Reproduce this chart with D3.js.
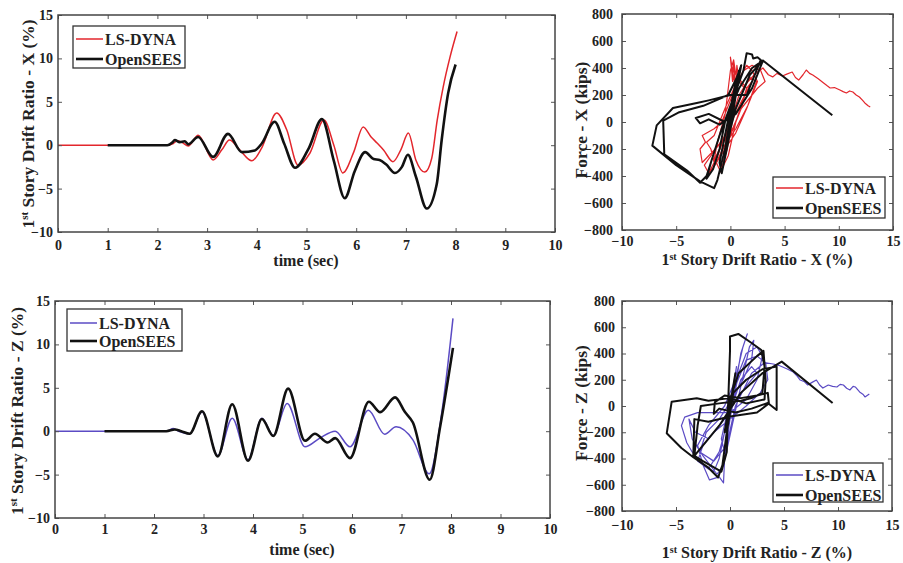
<!DOCTYPE html>
<html><head><meta charset="utf-8">
<script src="https://cdn.jsdelivr.net/npm/d3@7"></script>
<style>
body{margin:0;background:#fff;}
svg{display:block;}
text{font-family:"Liberation Serif","Times New Roman",serif;font-weight:bold;fill:#222;}
</style></head>
<body><svg id="c" width="903" height="563"></svg>
<script>
// ---------- DATA ----------
const seriesNames = ["LS-DYNA", "OpenSEES"];
const timeTicks = [0,1,2,3,4,5,6,7,8,9,10];
const driftTicks = [-10,-5,0,5,10,15];
const hystXTicks = [-10,-5,0,5,10,15];
const forceTicks = [-800,-600,-400,-200,0,200,400,600,800];

// Drift X time histories
const dynaXTime  = [0,2.2,2.32,2.4,2.5,2.62,2.82,3.12,3.3,3.45,3.65,3.9,4.1,4.4,4.6,4.83,5.07,5.35,5.55,5.73,5.95,6.14,6.3,6.42,6.55,6.74,6.9,7.05,7.2,7.38,7.52,7.63,7.75,7.89,8.03];
const dynaXDrift = [0,0,0.2,0.5,0.3,-0.1,1.15,-1.7,-0.5,0.6,-0.5,-1.8,-0.3,3.7,1.8,-2.3,-0.9,2.9,0.0,-3.2,-0.8,2.1,0.95,0.25,-0.55,-1.9,-0.5,1.4,-1.7,-3.1,-1.5,2.9,6.7,10.2,13.1];
const oseesXTime  = [1.0,2.2,2.3,2.35,2.45,2.55,2.62,2.82,3.12,3.42,3.7,3.96,4.1,4.36,4.55,4.77,5.05,5.31,5.55,5.77,5.97,6.18,6.35,6.47,6.6,6.78,6.92,7.04,7.2,7.42,7.62,7.72,7.85,8.0];
const oseesXDrift = [0,0,0.3,0.6,0.35,0.45,0.1,0.95,-1.35,1.3,-0.8,-0.6,0.2,2.7,0.2,-2.6,-0.3,3.0,-1.8,-6.1,-3.0,-0.8,-1.6,-1.7,-2.2,-3.2,-2.5,-1.1,-3.6,-7.3,-4.5,0.6,6.0,9.3];

// Drift Z time histories
const dynaZTime  = [0,2.25,2.39,2.5,2.72,2.97,3.29,3.58,3.9,4.18,4.41,4.69,5.05,5.35,5.66,5.96,6.33,6.66,6.89,7.23,7.56,7.82,8.04];
const dynaZDrift = [0,0,0.3,0.0,-0.3,2.2,-2.8,1.5,-3.3,1.5,-0.5,3.2,-1.8,-0.8,0.0,-1.8,2.4,-0.35,0.5,-1.0,-4.9,2.4,13.0];
const oseesZTime  = [1.0,2.25,2.42,2.55,2.72,2.97,3.29,3.58,3.9,4.18,4.41,4.71,5.05,5.25,5.51,5.66,5.96,6.34,6.57,6.87,7.07,7.23,7.57,7.78,8.04];
const oseesZDrift = [0,0,0.2,0.0,-0.3,2.3,-2.9,3.1,-3.4,1.4,-0.55,4.9,-1.1,-0.3,-1.3,-0.8,-3.1,3.4,2.2,3.9,2.2,1.0,-5.6,0.5,9.6];

// Force-drift X  [drift %, force kips]
const dynaXHyst = [[0,0],[0.1,80],[-0.1,-50],[0.2,150],[0.0,40],[-0.3,-100],[0.3,200],[0.1,120],[-0.5,-150],[-0.2,-60],[0.4,280],[0.0,480],[0.2,300],[0.3,450],[0.5,200],[-0.3,-50],[-1.0,-200],[-1.5,-280],[-1.2,-150],[-0.5,50],[0.0,380],[0.3,460],[0.5,350],[1.0,300],[1.5,250],[1.0,100],[0.2,-50],[-0.8,-150],[-2.0,-250],[-2.6,-300],[-2.8,-200],[-2.3,-150],[-2.6,-100],[-1.5,-50],[-0.8,0],[0.2,200],[1.0,350],[1.5,420],[2.0,380],[2.5,300],[1.5,100],[0.5,-80],[-0.5,-200],[-1.5,-330],[-2.0,-380],[-1.5,-300],[-1.8,-200],[-2.2,-150],[-1.5,-100],[-0.5,100],[0.5,280],[1.2,380],[2.0,420],[2.8,380],[3.2,300],[2.5,250],[1.0,100],[0.0,-100],[-1.0,-250],[-0.8,-350],[-0.2,-250],[0.5,0],[1.5,250],[2.0,300],[1.0,150],[-0.5,-100],[-1.8,-250],[-2.4,-320],[-2.0,-380],[-1.2,-250],[0.0,0],[0.8,200],[1.8,330],[2.4,300],[1.6,120],[0.5,-50],[-0.6,-180],[-1.3,-300],[-0.9,-370],[-0.3,-200],[0.3,50],[0.6,420],[0.8,300],[1.2,260],[2.2,350],[2.5,370],[3.0,400],[3.5,350],[3.9,334],[4.3,360],[4.8,341],[5.2,355],[5.7,370],[6.0,330],[6.3,311],[6.7,350],[7.0,385],[7.3,360],[7.6,348],[8.1,320],[8.6,289],[8.9,270],[9.2,252],[9.6,255],[10.1,237],[10.4,225],[10.7,215],[11.0,230],[11.3,222],[11.6,200],[11.9,185],[12.2,160],[12.4,141],[12.7,120],[12.9,111]];
const oseesXHyst = [[0,0],[0.2,120],[0.5,260],[0.1,60],[-0.3,-120],[-0.6,-250],[-0.2,-60],[0.4,200],[0.8,380],[0.5,300],[-0.5,-100],[-1.0,-300],[-0.8,-380],[-0.2,-150],[0.6,250],[1.0,420],[0.6,330],[-0.2,200],[-2.5,120],[-4.8,70],[-6.2,10],[-6.1,-240],[-4.0,-360],[-2.8,-450],[-2.2,-400],[-1.0,-100],[0.0,120],[1.2,380],[1.5,510],[2.0,500],[2.1,470],[2.5,480],[2.8,460],[1.5,200],[0.0,200],[-2.0,160],[-3.1,140],[-5.3,104],[-6.8,-25],[-7.2,-175],[-5.0,-320],[-2.8,-440],[-1.5,-490],[-1.2,-430],[-0.5,-200],[0.5,100],[1.8,350],[3.0,455],[2.0,250],[0.5,60],[-1.0,-20],[-2.0,20],[-2.8,-10],[-3.2,30],[-2.0,60],[-0.5,0],[-1.0,-200],[-1.6,-350],[-2.2,-420],[-1.8,-300],[-0.8,-50],[0.8,250],[2.0,400],[3.0,455],[9.4,50]];

// Force-drift Z
const dynaZHyst = [[0,0],[0.2,100],[-0.2,-120],[0.4,200],[-0.4,-200],[0.1,0],[0.6,300],[0.3,150],[-0.8,-250],[-0.5,-350],[0.0,-100],[1.0,400],[1.6,549],[1.2,450],[0.5,200],[-0.5,0],[-2.0,-150],[-3.0,-300],[-2.5,-450],[-1.9,-563],[-1.0,-540],[-0.6,-586],[-0.5,-400],[0.0,-100],[0.8,250],[1.5,400],[2.5,450],[3.0,380],[2.5,200],[1.5,50],[0,-50],[-1.5,-50],[-3.0,-50],[-4.2,-85],[-4.5,-150],[-4.0,-280],[-3.5,-350],[-2.5,-450],[-1.5,-500],[-1.0,-400],[-0.5,-200],[0.5,150],[1.5,350],[2.5,380],[3.3,330],[3.5,200],[2.8,100],[1.5,0],[0.0,-100],[-1.5,-200],[-2.5,-300],[-3.0,-420],[-2.0,-480],[-1.0,-350],[0.0,-50],[1.0,200],[2.0,300],[2.5,250],[1.0,100],[-0.5,-100],[-2.0,-250],[-3.2,-200],[-3.8,-100],[-3.5,-250],[-2.5,-380],[-1.2,-520],[-0.6,-450],[0.2,-150],[1.0,150],[1.8,450],[2.2,500],[2.0,350],[1.2,200],[0.2,50],[-1.0,-100],[-2.2,-200],[-2.8,-350],[-1.5,-420],[-0.3,-300],[0.5,0],[2.0,250],[3.2,330],[4.0,320],[4.5,310],[5.3,282],[5.85,259],[6.2,230],[6.5,198],[6.9,185],[7.2,160],[7.6,180],[8.0,198],[8.3,160],[8.6,137],[9.1,160],[9.5,150],[9.9,145],[10.2,165],[10.5,160],[10.8,135],[11.1,122],[11.4,150],[11.6,145],[12.0,107],[12.3,90],[12.5,69],[12.9,92]];
const oseesZHyst = [[0,0],[0.3,150],[-0.3,-150],[0.5,250],[0.2,100],[-0.5,-200],[-0.2,-50],[0.0,420],[0.0,530],[0.77,549],[2.0,480],[2.9,427],[3.2,300],[3.0,100],[2.0,60],[1.0,40],[-1.0,20],[-2.7,0],[-3.0,-150],[-3.3,-380],[-2.5,-420],[-0.8,-500],[-0.3,-350],[-0.2,0],[0.8,250],[2.5,380],[3.1,420],[3.3,200],[3.2,50],[1.5,20],[0.0,60],[-2.0,40],[-3.08,59],[-5.4,33],[-5.86,-208],[-4.5,-320],[-3.4,-390],[-2.0,-470],[-1.1,-545],[-0.7,-450],[-0.3,-200],[0.3,100],[1.5,200],[3.0,280],[4.32,300],[4.32,-30],[3.5,23],[2.0,-20],[0.5,-50],[-1.0,-20],[-1.5,-60],[-1.4,30],[-0.5,80],[1.0,60],[2.5,80],[3.5,100],[3.6,20],[2.5,-50],[0.0,-80],[-2.0,-120],[-3.3,-100],[-3.4,-390],[-2.5,-300],[-1.0,-150],[1.0,100],[3.0,250],[4.79,338],[9.5,23]];

// ---------- DRAW ----------
const svg = d3.select("#c");
const RED = "#e3262c", PURPLE = "#5b4bc4", BLACK = "#111";

function panel(cfg){
  const x = d3.scaleLinear().domain(cfg.xd).range([cfg.x0, cfg.x1]);
  const y = d3.scaleLinear().domain(cfg.yd).range([cfg.y1, cfg.y0]);
  const g = svg.append("g");
  const cid = "clip"+cfg.id;
  svg.append("clipPath").attr("id",cid).append("rect")
    .attr("x",cfg.x0).attr("y",cfg.y0).attr("width",cfg.x1-cfg.x0).attr("height",cfg.y1-cfg.y0);
  const plot = g.append("g").attr("clip-path","url(#"+cid+")");
  cfg.lines.forEach(L=>{
    const line = d3.line().x(d=>x(d[0])).y(d=>y(d[1]));
    if(L.curve) line.curve(L.curve);
    plot.append("path").datum(L.data).attr("fill","none")
      .attr("stroke",L.color).attr("stroke-width",L.w).attr("stroke-linejoin","round").attr("d",line);
  });
  const fs = "14px";
  const bx = g.append("g").attr("transform",`translate(0,${cfg.y1})`)
    .call(d3.axisBottom(x).tickValues(cfg.xt).tickFormat(d3.format("d")).tickSizeInner(-4).tickSizeOuter(0).tickPadding(cfg.xpad));
  const ty = g.append("g").attr("transform",`translate(0,${cfg.y0})`)
    .call(d3.axisTop(x).tickValues(cfg.xt).tickFormat("").tickSizeInner(-4).tickSizeOuter(0));
  const ly = g.append("g").attr("transform",`translate(${cfg.x0},0)`)
    .call(d3.axisLeft(y).tickValues(cfg.yt).tickFormat(d3.format("d")).tickSizeInner(-4).tickSizeOuter(0).tickPadding(cfg.ypad));
  const ry = g.append("g").attr("transform",`translate(${cfg.x1},0)`)
    .call(d3.axisRight(y).tickValues(cfg.yt).tickFormat("").tickSizeInner(-4).tickSizeOuter(0));
  [bx,ty,ly,ry].forEach(a=>{
    a.select(".domain").remove();
    a.selectAll(".tick line").attr("stroke","#555").attr("stroke-width",1);
    a.selectAll("text").style("font-size",fs).style("font-family",'"Liberation Serif",serif').style("font-weight","bold").attr("fill","#222");
  });
  g.append("rect").attr("x",cfg.x0).attr("y",cfg.y0).attr("width",cfg.x1-cfg.x0).attr("height",cfg.y1-cfg.y0)
    .attr("fill","none").attr("stroke","#444").attr("stroke-width",1.5);
  const xl = g.append("text").attr("x",cfg.xlx).attr("y",cfg.xly).attr("text-anchor","middle").style("font-size","16px");
  addLabel(xl, cfg.xlabel, "10px");
  const yl = g.append("text").attr("transform",`translate(${cfg.ylx},${cfg.yly}) rotate(-90)`).attr("text-anchor","middle").style("font-size","17.5px");
  addLabel(yl, cfg.ylabel, "11px");
  const lg = cfg.leg;
  g.append("rect").attr("x",lg.x).attr("y",lg.y).attr("width",lg.w).attr("height",lg.h)
    .attr("fill","#fff").attr("stroke","#333").attr("stroke-width",1.3);
  cfg.lines.forEach((L,i)=>{
    const cy = lg.r[i];
    g.append("line").attr("x1",lg.x+3).attr("x2",lg.x+30).attr("y1",cy).attr("y2",cy)
      .attr("stroke",L.color).attr("stroke-width",L.legW);
    g.append("text").attr("x",lg.x+32).attr("y",cy+5.5).style("font-size","16px").text(seriesNames[i]);
  });
}
function addLabel(t, parts, supSize){
  t.append("tspan").text(parts[0]);
  if(parts.length>1){
    t.append("tspan").attr("baseline-shift","super").style("font-size",supSize).text(parts[1]);
    t.append("tspan").text(parts[2]);
  }
}
const zip = (a,b)=>a.map((v,i)=>[v,b[i]]);
const driftLabel = ax => ["1","st"," Story Drift Ratio - "+ax+" (%)"];

panel({id:1,x0:58,x1:555,y0:15,y1:232,xd:[0,10],yd:[-10,15],xt:timeTicks,yt:driftTicks,xpad:8,ypad:5,
  xlabel:["time (sec)"],xlx:306,xly:266,ylabel:driftLabel("X"),ylx:34,yly:124,
  leg:{x:73,y:26,w:112,h:42,r:[39,59]},
  lines:[{data:zip(dynaXTime,dynaXDrift),color:RED,w:1.5,legW:1.5,curve:d3.curveMonotoneX},
         {data:zip(oseesXTime,oseesXDrift),color:BLACK,w:2.6,legW:2.6,curve:d3.curveMonotoneX}]});
panel({id:2,x0:622,x1:893,y0:14,y1:230,xd:[-10,15],yd:[-800,800],xt:hystXTicks,yt:forceTicks,xpad:6,ypad:9,
  xlabel:driftLabel("X"),xlx:757,xly:265,ylabel:["Force - X (kips)"],ylx:587,yly:120,
  leg:{x:773,y:177,w:112,h:41,r:[188,208]},
  lines:[{data:dynaXHyst,color:RED,w:1.2,legW:1.5},
         {data:oseesXHyst,color:BLACK,w:2,legW:2.6}]});
panel({id:3,x0:55,x1:550,y0:301,y1:518,xd:[0,10],yd:[-10,15],xt:timeTicks,yt:driftTicks,xpad:6,ypad:5,
  xlabel:["time (sec)"],xlx:302,xly:555,ylabel:driftLabel("Z"),ylx:23,yly:411,
  leg:{x:67,y:309,w:115,h:42,r:[323,341]},
  lines:[{data:zip(dynaZTime,dynaZDrift),color:PURPLE,w:1.5,legW:1.5,curve:d3.curveMonotoneX},
         {data:zip(oseesZTime,oseesZDrift),color:BLACK,w:2.6,legW:2.6,curve:d3.curveMonotoneX}]});
panel({id:4,x0:622,x1:892,y0:301,y1:511,xd:[-10,15],yd:[-800,800],xt:hystXTicks,yt:forceTicks,xpad:9,ypad:7,
  xlabel:driftLabel("Z"),xlx:757,xly:558,ylabel:["Force - Z (kips)"],ylx:587,yly:403,
  leg:{x:773,y:463,w:110,h:39,r:[475,495]},
  lines:[{data:dynaZHyst,color:PURPLE,w:1.2,legW:1.5},
         {data:oseesZHyst,color:BLACK,w:2,legW:2.6}]});
</script></body></html>
